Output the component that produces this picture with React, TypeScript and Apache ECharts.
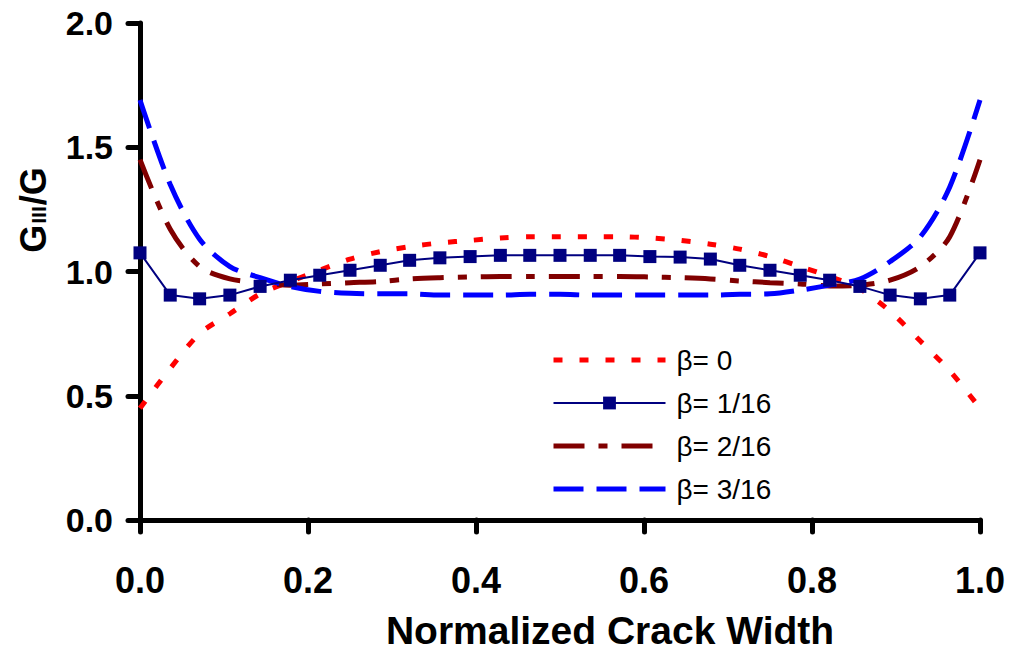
import React, { useEffect, useRef } from "react";
import * as echarts from "echarts";

const xValues = [0, 0.036, 0.071, 0.107, 0.143, 0.179, 0.214, 0.25, 0.286, 0.321, 0.357, 0.393, 0.429, 0.464, 0.5, 0.536, 0.571, 0.607, 0.643, 0.679, 0.714, 0.75, 0.786, 0.821, 0.857, 0.893, 0.929, 0.964, 1.0];

const beta0 = [0.45, 0.61, 0.75, 0.83, 0.91, 0.96, 1.005, 1.05, 1.08, 1.1, 1.115, 1.125, 1.135, 1.14, 1.14, 1.14, 1.14, 1.135, 1.125, 1.11, 1.09, 1.06, 1.02, 0.98, 0.93, 0.84, 0.72, 0.6, 0.45];
const beta1 = [1.075, 0.905, 0.89, 0.905, 0.94, 0.965, 0.985, 1.005, 1.025, 1.045, 1.055, 1.06, 1.065, 1.065, 1.065, 1.065, 1.065, 1.06, 1.058, 1.05, 1.025, 1.005, 0.985, 0.965, 0.94, 0.905, 0.89, 0.905, 1.075];
const beta2 = [1.45, 1.17, 1.02, 0.97, 0.955, 0.945, 0.95, 0.955, 0.96, 0.97, 0.975, 0.978, 0.98, 0.98, 0.98, 0.98, 0.98, 0.978, 0.975, 0.97, 0.962, 0.955, 0.95, 0.942, 0.945, 0.965, 1.02, 1.14, 1.45];
const beta3 = [1.69, 1.35, 1.13, 1.02, 0.975, 0.94, 0.92, 0.912, 0.91, 0.91, 0.905, 0.905, 0.905, 0.908, 0.908, 0.905, 0.905, 0.905, 0.905, 0.905, 0.908, 0.91, 0.925, 0.945, 0.97, 1.04, 1.14, 1.34, 1.69];

const seriesNames = ["β= 0", "β= 1/16", "β= 2/16", "β= 3/16"];
const xTicks = ["0.0", "0.2", "0.4", "0.6", "0.8", "1.0"];
const yTicks = ["0.0", "0.5", "1.0", "1.5", "2.0"];

const FONT = "'Liberation Sans', Arial, Helvetica, sans-serif";

function pairs(ys: number[]) {
  return xValues.map((x, i) => [x, ys[i]]);
}

export default function App() {
  const ref = useRef<HTMLDivElement>(null);
  useEffect(() => {
    if (!ref.current) return;
    const chart = echarts.init(ref.current, undefined, { renderer: "svg" });
    const axisLine = { show: true, lineStyle: { color: "#000", width: 5, cap: "round" } };
    const axisTick = { show: true, inside: false, length: 12, lineStyle: { color: "#000", width: 5, cap: "round" } };
    chart.setOption({
      animation: false,
      backgroundColor: "#fff",
      grid: { left: 140, right: 40, top: 23, bottom: 147 },
      legend: {
        orient: "vertical",
        left: 546,
        top: 341,
        itemWidth: 112,
        itemHeight: 16,
        itemGap: 15,
        lineStyle: { width: "inherit" },
        textStyle: { fontFamily: FONT, fontSize: 28, color: "#000", padding: [0, 0, 0, 6] },
        data: [
          { name: seriesNames[0], itemStyle: { opacity: 0 } },
          { name: seriesNames[1] },
          { name: seriesNames[2], itemStyle: { opacity: 0 } },
          { name: seriesNames[3], itemStyle: { opacity: 0 } },
        ],
      },
      xAxis: {
        type: "value",
        min: 0,
        max: 1,
        interval: 0.2,
        axisLine,
        axisTick,
        splitLine: { show: false },
        axisLabel: {
          margin: 42,
          fontFamily: FONT,
          fontSize: 36,
          fontWeight: "bold",
          color: "#000",
          formatter: (v: number) => xTicks[Math.round(v / 0.2)] ?? "",
        },
        name: "Normalized Crack Width",
        nameLocation: "middle",
        nameGap: 91,
        nameTextStyle: { fontFamily: FONT, fontSize: 39, fontWeight: "bold", color: "#000", padding: [0, 0, 0, 100] },
      },
      yAxis: {
        type: "value",
        min: 0,
        max: 2,
        interval: 0.5,
        axisLine,
        axisTick,
        splitLine: { show: false },
        axisLabel: {
          margin: 27,
          fontFamily: FONT,
          fontSize: 34,
          fontWeight: "bold",
          color: "#000",
          formatter: (v: number) => yTicks[Math.round(v / 0.5)] ?? "",
        },
      },
      graphic: [
        {
          type: "text",
          x: 33,
          y: 210,
          rotation: Math.PI / 2,
          style: {
            text: "{g|G}{s|III}{g|/G}",
            align: "center",
            verticalAlign: "middle",
            fill: "#000",
            rich: {
              g: { fontFamily: FONT, fontSize: 36, fontWeight: "bold", fill: "#000", verticalAlign: "bottom" },
              s: { fontFamily: FONT, fontSize: 21, fontWeight: "bold", fill: "#000", verticalAlign: "bottom", padding: [0, 1, 2, 1] },
            },
          },
        },
      ],
      series: [
        {
          name: seriesNames[0],
          type: "line",
          data: pairs(beta0),
          smooth: 0.3,
          symbol: "none",
          z: 2,
          lineStyle: { color: "#FF0000", width: 5, type: [9, 17] },
          itemStyle: { color: "#FF0000" },
        },
        {
          name: seriesNames[1],
          type: "line",
          data: pairs(beta1),
          smooth: false,
          symbol: "rect",
          symbolSize: 13,
          z: 6,
          lineStyle: { color: "#000080", width: 2 },
          itemStyle: { color: "#000080" },
        },
        {
          name: seriesNames[2],
          type: "line",
          data: pairs(beta2),
          smooth: 0.3,
          symbol: "none",
          z: 3,
          lineStyle: { color: "#800000", width: 5, type: [31, 14, 9, 14] },
          itemStyle: { color: "#800000" },
        },
        {
          name: seriesNames[3],
          type: "line",
          data: pairs(beta3),
          smooth: 0.3,
          symbol: "none",
          z: 4,
          lineStyle: { color: "#0000FF", width: 5, type: [30, 13] },
          itemStyle: { color: "#0000FF" },
        },
      ],
    });
    return () => chart.dispose();
  }, []);
  return (
    <div
      ref={ref}
      style={{ position: "fixed", left: 0, top: 0, width: 1020, height: 667, background: "#fff" }}
    />
  );
}
